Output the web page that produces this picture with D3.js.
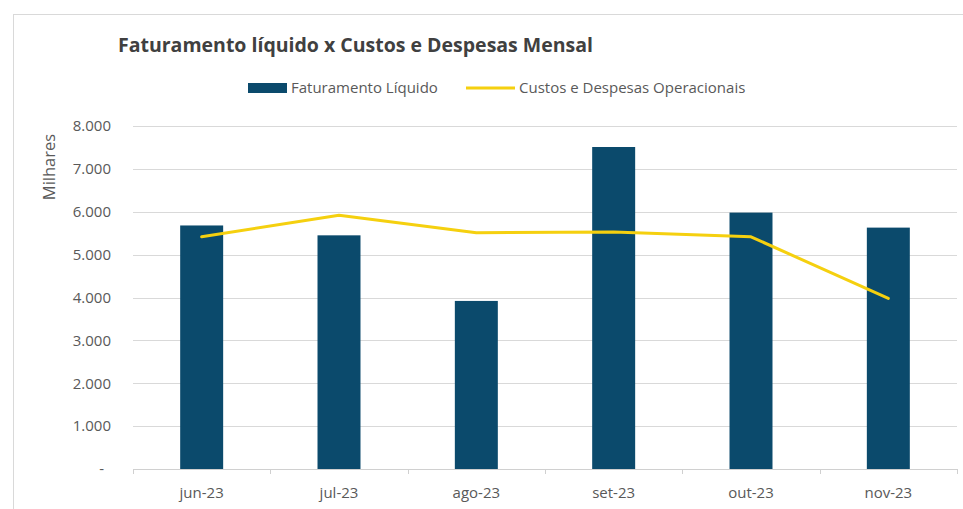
<!DOCTYPE html>
<meta charset='utf-8'>
<title>Faturamento x Custos</title>
<style>
body {
  margin: 0;
  background-color: #fff;
}
text {
  font-family: "Open Sans", "Noto Sans", sans-serif;
  fill: #595959;
}
</style>
<svg width="963" height="509"></svg>
<script src="https://d3js.org/d3.v7.min.js"></script>
<script>

// data (milhares)
var months = ["jun-23", "jul-23", "ago-23", "set-23", "out-23", "nov-23"];
var faturamento = [5680, 5450, 3920, 7510, 5980, 5630];
var custos = [5415, 5920, 5510, 5530, 5415, 3980];
var yTicks = [0, 1000, 2000, 3000, 4000, 5000, 6000, 7000, 8000];

var svg = d3.select("svg");

var margin = {left: 133, right: 6, top: 126, bottom: 40};
var width = 963 - margin.left - margin.right,
    height = 509 - margin.top - margin.bottom;

// chart frame
svg.append("rect")
    .attr("x", 13.5)
    .attr("y", 14.5)
    .attr("width", 980)
    .attr("height", 520)
    .attr("fill", "#fff")
    .attr("stroke", "#d9d9d9");

var x = d3.scaleBand()
    .domain(months)
    .range([0, width])
    .paddingInner(0.687)
    .paddingOuter(0.3435);

var xEdge = d3.scaleLinear()
    .domain([0, months.length])
    .range([0, width]);

var y = d3.scaleLinear()
    .domain([0, 8000])
    .range([height, 0]);

var g = svg.append("g")
    .attr("transform", "translate(" + margin.left + "," + margin.top + ")");

// gridlines
g.selectAll(".grid")
    .data(yTicks.slice(1))
  .enter().append("line")
    .attr("class", "grid")
    .attr("x1", 0)
    .attr("x2", width)
    .attr("y1", function(d) { return Math.round(y(d)) + 0.5; })
    .attr("y2", function(d) { return Math.round(y(d)) + 0.5; })
    .attr("stroke", "#d9d9d9")
    .attr("stroke-width", 1);

// y labels
var fmt = function(d) { return d === 0 ? "-" : d3.format(",")(d).replace(/,/g, "."); };
g.selectAll(".ylab")
    .data(yTicks)
  .enter().append("text")
    .attr("class", "ylab")
    .attr("x", d => d === 0 ? -29 : -22)
    .attr("y", d => y(d))
    .attr("dy", "0.35em")
    .attr("text-anchor", "end")
    .style("font-size", "15px")
    .text(fmt);

// bars
g.selectAll(".bar")
    .data(faturamento)
  .enter().append("rect")
    .attr("class", "bar")
    .attr("x", function(d, i) { return x(months[i]); })
    .attr("width", x.bandwidth())
    .attr("y", function(d) { return y(d); })
    .attr("height", function(d) { return height - y(d); })
    .attr("fill", "#0b4a6c");

// baseline + ticks
g.append("line")
    .attr("x1", 0).attr("x2", width)
    .attr("y1", height + 0.5).attr("y2", height + 0.5)
    .attr("stroke", "#d0d0d0");

g.selectAll(".tick")
    .data(d3.range(months.length + 1))
  .enter().append("line")
    .attr("x1", d => Math.round(xEdge(d)) + 0.5)
    .attr("x2", d => Math.round(xEdge(d)) + 0.5)
    .attr("y1", height)
    .attr("y2", height + 5)
    .attr("stroke", "#d0d0d0");

// x labels
g.selectAll(".xlab")
    .data(months)
  .enter().append("text")
    .attr("x", d => x(d) + x.bandwidth() / 2)
    .attr("y", height + 24)
    .attr("dy", "0.35em")
    .attr("text-anchor", "middle")
    .style("font-size", "15px")
    .text(d => d);

// line
var line = d3.line()
    .x(function(d, i) { return x(months[i]) + x.bandwidth() / 2; })
    .y(function(d) { return y(d); });

g.append("path")
    .datum(custos)
    .attr("d", line)
    .attr("fill", "none")
    .attr("stroke", "#f5d00f")
    .attr("stroke-width", 3)
    .attr("stroke-linejoin", "round")
    .attr("stroke-linecap", "round");

// axis title
svg.append("text")
    .attr("transform", "translate(55,167) rotate(-90)")
    .attr("text-anchor", "middle")
    .style("font-size", "16.5px")
    .text("Milhares");

// title
svg.append("text")
    .attr("x", 118)
    .attr("y", 52)
    .style("font-size", "19.5px")
    .style("font-weight", "bold")
    .style("fill", "#404040")
    .text("Faturamento líquido x Custos e Despesas Mensal");

// legend
var legend = svg.append("g");
legend.append("rect")
    .attr("x", 248).attr("y", 83)
    .attr("width", 39).attr("height", 10)
    .attr("fill", "#0b4a6c");
legend.append("text")
    .attr("x", 291).attr("y", 88)
    .attr("dy", "0.35em")
    .style("font-size", "15px")
    .text("Faturamento Líquido");
legend.append("line")
    .attr("x1", 466).attr("x2", 515)
    .attr("y1", 88).attr("y2", 88)
    .attr("stroke", "#f5d00f")
    .attr("stroke-width", 3);
legend.append("text")
    .attr("x", 519).attr("y", 88)
    .attr("dy", "0.35em")
    .style("font-size", "15px")
    .text("Custos e Despesas Operacionais");

</script>
